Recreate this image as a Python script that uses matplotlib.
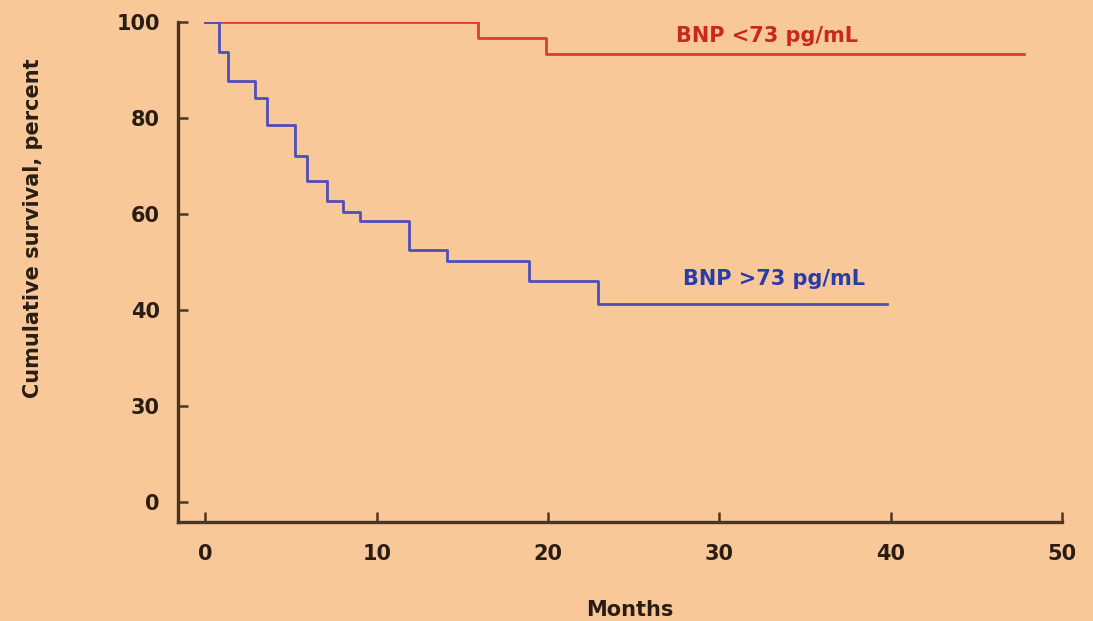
import matplotlib
matplotlib.use("Agg")
import matplotlib.pyplot as plt

# Data (Kaplan-Meier step curves)
low_t = [0, 15.9, 19.9, 47.8]
low_s = [100, 96.6, 93.3, 93.3]
high_t = [0, 0.8, 1.3, 2.9, 3.6, 5.2, 5.9, 7.1, 8.05, 9.0, 11.9, 14.1, 18.9, 22.9, 39.8]
high_s = [100, 93.8, 87.7, 84.2, 78.5, 72.1, 66.9, 62.6, 60.4, 58.6, 52.4, 50.1, 46.0, 41.2, 41.2]

x_ticks = [0, 10, 20, 30, 40, 50]
y_ticks = [0, 20, 40, 60, 80, 100]
y_tick_labels = ["0", "30", "40", "60", "80", "100"]

bg = "#F9C898"
axis_col = "#4A3620"
red = "#D8402C"
blue = "#4E4EB8"
txt = "#2A1E14"

plt.rcParams["font.family"] = ["DejaVu Sans"]
fig = plt.figure(figsize=(10.93, 6.21), dpi=100, facecolor=bg)
ax = fig.add_axes([0.1629, 0.1594, 0.9716 - 0.1629, 0.9646 - 0.1594])
ax.set_facecolor(bg)

ax.step(low_t, low_s, where="post", color=red, lw=2.0)
ax.step(high_t, high_s, where="post", color=blue, lw=2.0)

ax.set_xlim(-1.6, 50)
ax.set_ylim(-4.2, 100)
for s in ["top", "right"]:
    ax.spines[s].set_visible(False)
for s in ["left", "bottom"]:
    ax.spines[s].set_color(axis_col)
    ax.spines[s].set_linewidth(2.4)

ax.set_xticks(x_ticks)
ax.set_yticks(y_ticks)
ax.set_yticklabels(y_tick_labels)
ax.tick_params(axis="both", direction="in", length=7, width=1.8, color=axis_col,
               labelsize=15, labelcolor=txt)
ax.tick_params(axis="y", pad=13)
ax.tick_params(axis="x", pad=16)
for lab in ax.get_xticklabels() + ax.get_yticklabels():
    lab.set_fontweight("bold")

fig.text(630 / 1093, 1 - 610 / 621, "Months", fontsize=15, fontweight="bold",
         color=txt, ha="center", va="center")
fig.text(33 / 1093, 1 - 228 / 621, "Cumulative survival, percent", fontsize=15,
         fontweight="bold", color=txt, ha="center", va="center", rotation=90)

ax.text(32.8, 97.0, "BNP <73 pg/mL", color="#C8281E", fontsize=15, fontweight="bold",
        ha="center", va="center")
ax.text(33.2, 46.5, "BNP >73 pg/mL", color="#2A3CA8", fontsize=15, fontweight="bold",
        ha="center", va="center")

fig.savefig("out.png", dpi=100, facecolor=bg)
